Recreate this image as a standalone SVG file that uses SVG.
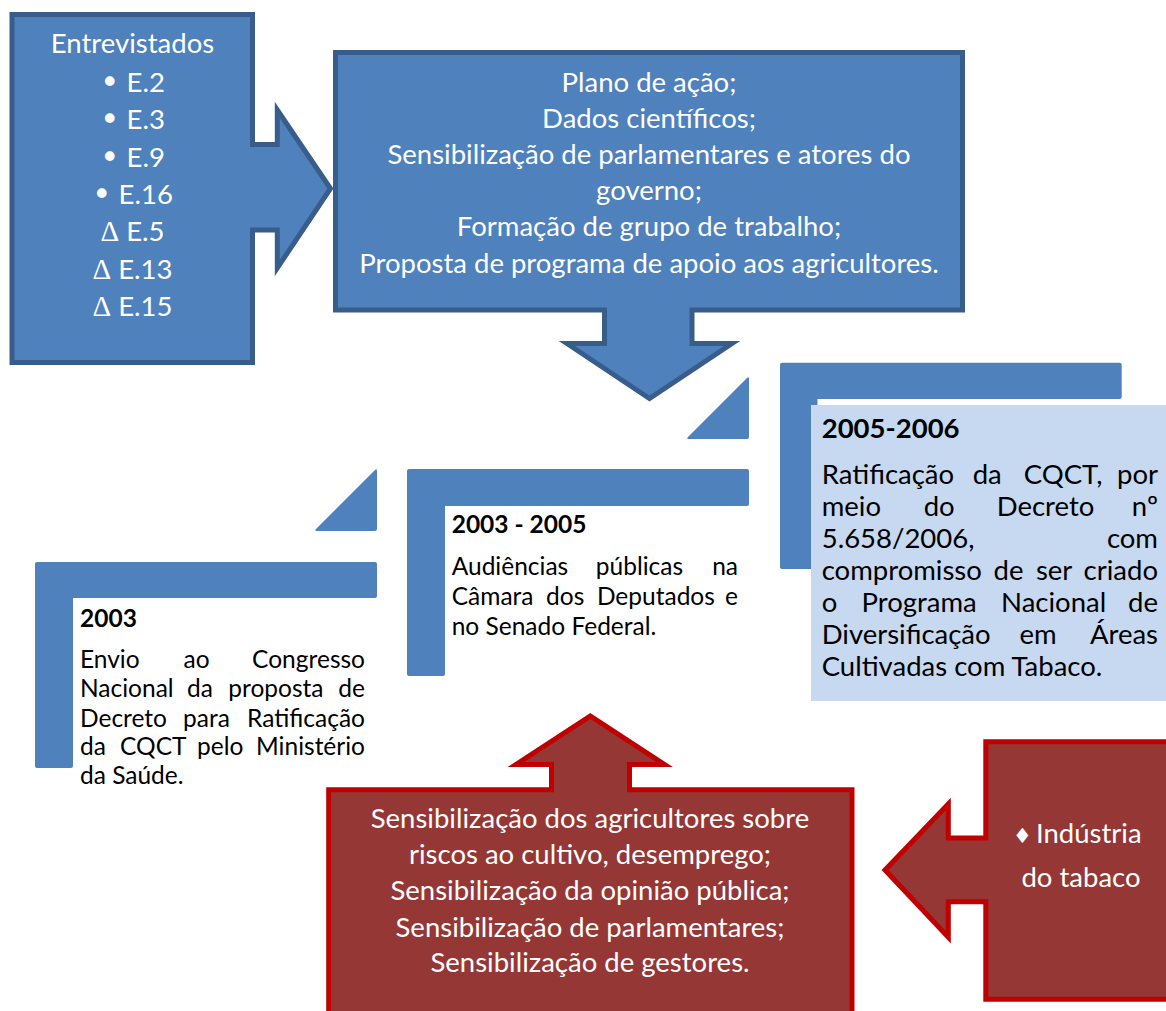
<svg xmlns="http://www.w3.org/2000/svg" width="1166" height="1011" viewBox="0 0 1166 1011">
  <style>
    .blue-callout { fill: #4f81bd; stroke: #385d8a; stroke-width: 5; stroke-linejoin: miter; }
    .red-callout { fill: #953735; stroke: #c00000; stroke-width: 5; stroke-linejoin: miter; }
    .step { fill: #4f81bd; }
    .step-note { fill: #c6d9f1; }
    .lbl { font-family: Lato, "Liberation Sans", sans-serif; font-size: 27.5px; fill: #ffffff; text-anchor: middle; }
    .sym { font-family: "DejaVu Sans", sans-serif; font-size: 33px; }
    .dia { font-family: "DejaVu Sans", sans-serif; font-size: 21px; fill: #ffffff; text-anchor: start; }
    .delta { font-family: "Liberation Serif", serif; font-size: 29px; }
    .st { font-family: Lato, "Liberation Sans", sans-serif; font-size: 24.5px; fill: #000000; }
    .st3 { font-family: Lato, "Liberation Sans", sans-serif; font-size: 27.5px; fill: #000000; }
    .hd { font-weight: bold; }
    .end { text-anchor: end; }
    .start { text-anchor: start; }
  </style>

  <rect x="0" y="0" width="1166" height="1011" fill="#ffffff"/>

  <!-- interviewees callout, arrow pointing right -->
  <g id="entrevistados">
    <path class="blue-callout" d="M12,14.5 H252.5 V144.5 H277.3 V110 L330.5,188.5 L277.3,268 V230 H252.5 V362.5 H12 Z"/>
    <text class="lbl" x="132.5" y="53.3">Entrevistados</text>
    <text class="lbl" x="132.5" y="91.7"><tspan class="sym" dy="2">•</tspan><tspan dy="-2"> E.2</tspan></text>
    <text class="lbl" x="132.5" y="129"><tspan class="sym" dy="2">•</tspan><tspan dy="-2"> E.3</tspan></text>
    <text class="lbl" x="132.5" y="166.5"><tspan class="sym" dy="2">•</tspan><tspan dy="-2"> E.9</tspan></text>
    <text class="lbl" x="132.5" y="203.8"><tspan class="sym" dy="2">•</tspan><tspan dy="-2"> E.16</tspan></text>
    <text class="lbl" x="132.5" y="241"><tspan class="delta">Δ</tspan> E.5</text>
    <text class="lbl" x="132.5" y="278.6"><tspan class="delta">Δ</tspan> E.13</text>
    <text class="lbl" x="132.5" y="316"><tspan class="delta">Δ</tspan> E.15</text>
  </g>

  <!-- strategies callout, arrow pointing down -->
  <g id="estrategias">
    <path class="blue-callout" d="M335.5,52.5 H962.5 V310 H692 V343.5 H732 L649.5,398.5 L567,343.5 H604.5 V310 H335.5 Z"/>
    <text class="lbl" x="649" y="92">Plano de ação;</text>
    <text class="lbl" x="649" y="128">Dados científicos;</text>
    <text class="lbl" x="649" y="164.2">Sensibilização de parlamentares e atores do</text>
    <text class="lbl" x="649" y="200.3">governo;</text>
    <text class="lbl" x="649" y="236.4">Formação de grupo de trabalho;</text>
    <text class="lbl" x="649" y="272.5">Proposta de programa de apoio aos agricultores.</text>
  </g>

  <!-- step-up arrows between the timeline steps -->
  <g id="connectors">
    <path class="step" d="M377,471 V529 Q377,531 375,531 H317 Q314,531 316,529 L375,470 Q377,468 377,471 Z"/>
    <path class="step" d="M749,379 V437 Q749,439 747,439 H689 Q686,439 688,437 L747,378 Q749,376 749,379 Z"/>
  </g>

  <!-- step 1: 2003 -->
  <g id="etapa-2003">
    <path class="step" d="M37,562 H375 Q377,562 377,564 V596 Q377,598 375,598 H73 V766 Q73,768 71,768 H37 Q35,768 35,766 V564 Q35,562 37,562 Z"/>
    <text class="st hd" x="80" y="626.7">2003</text>
    <text class="st" y="668"><tspan x="80">Envio</tspan><tspan x="183.5">ao</tspan></text>
    <text class="st end" x="365" y="668">Congresso</text>
    <text class="st" y="697"><tspan x="80">Nacional</tspan><tspan x="187.1">da</tspan><tspan x="228.3">proposta</tspan></text>
    <text class="st end" x="365" y="697">de</text>
    <text class="st" y="726.5"><tspan x="80">Decreto</tspan><tspan x="183">para</tspan></text>
    <text class="st end" x="365" y="726.5">Ratificação</text>
    <text class="st" y="755"><tspan x="80">da</tspan><tspan x="120">CQCT</tspan><tspan x="197">pelo</tspan></text>
    <text class="st end" x="365" y="755">Ministério</text>
    <text class="st" x="80" y="783.5">da Saúde.</text>
  </g>

  <!-- step 2: 2003 - 2005 -->
  <g id="etapa-2003-2005">
    <path class="step" d="M409,469 H747 Q749,469 749,471 V504 Q749,506 747,506 H445 V674 Q445,676 443,676 H409 Q407,676 407,674 V471 Q407,469 409,469 Z"/>
    <text class="st hd" x="451.7" y="533">2003 - 2005</text>
    <text class="st" y="575"><tspan x="451.7">Audiências</tspan><tspan x="595.8">públicas</tspan></text>
    <text class="st end" x="738" y="575">na</text>
    <text class="st" y="605"><tspan x="451.7">Câmara</tspan><tspan x="546.1">dos</tspan><tspan x="596.9">Deputados</tspan></text>
    <text class="st end" x="738" y="605">e</text>
    <text class="st" x="451.7" y="635">no Senado Federal.</text>
  </g>

  <!-- step 3: 2005-2006 -->
  <g id="etapa-2005-2006">
    <path class="step" d="M782,362.7 H1119.7 Q1121.7,362.7 1121.7,364.7 V397 Q1121.7,399 1119.7,399 H817.7 V567 Q817.7,569 815.7,569 H782 Q780,569 780,567 V364.7 Q780,362.7 782,362.7 Z"/>
    <rect x="817.7" y="399" width="349" height="6" fill="#ffffff"/>
    <rect class="step-note" x="811" y="405" width="356" height="296"/>
    <text class="st3 hd" x="821.7" y="438">2005-2006</text>
    <text class="st3" y="484"><tspan x="821.7">Ratificação</tspan><tspan x="972.7">da</tspan><tspan x="1023.7">CQCT,</tspan></text>
    <text class="st3 end" x="1158" y="484">por</text>
    <text class="st3" y="516"><tspan x="821.7">meio</tspan><tspan x="923.7">do</tspan><tspan x="996.7">Decreto</tspan></text>
    <text class="st3 end" x="1158" y="516">nº</text>
    <text class="st3" x="821.7" y="548">5.658/2006,</text>
    <text class="st3 end" x="1158" y="548">com</text>
    <text class="st3" y="580"><tspan x="821.7">compromisso</tspan><tspan x="993.5">de</tspan><tspan x="1035.9">ser</tspan></text>
    <text class="st3 end" x="1158" y="580">criado</text>
    <text class="st3" y="612"><tspan x="821.7">o</tspan><tspan x="861.5">Programa</tspan><tspan x="1001.1">Nacional</tspan></text>
    <text class="st3 end" x="1158" y="612">de</text>
    <text class="st3" y="644"><tspan x="821.7">Diversificação</tspan><tspan x="1019.4">em</tspan></text>
    <text class="st3 end" x="1158" y="644">Áreas</text>
    <text class="st3" x="821.7" y="676">Cultivadas com Tabaco.</text>
  </g>

  <!-- opposing strategies callout, arrow pointing up -->
  <g id="contra-estrategias">
    <path class="red-callout" d="M328.7,1030 V789.8 H551.5 V764.5 H516 L590.3,716 L664.5,764.5 H629.5 V789.8 H852 V1030"/>
    <text class="lbl" x="590" y="828">Sensibilização dos agricultores sobre</text>
    <text class="lbl" x="590" y="864">riscos ao cultivo, desemprego;</text>
    <text class="lbl" x="590" y="900">Sensibilização da opinião pública;</text>
    <text class="lbl" x="590" y="937">Sensibilização de parlamentares;</text>
    <text class="lbl" x="590" y="972">Sensibilização de gestores.</text>
  </g>

  <!-- tobacco industry callout, arrow pointing left -->
  <g id="industria">
    <path class="red-callout" d="M1190,741.8 H985.8 V838 H948.3 V804 L885,870 L948.3,937.3 V901.7 H985.8 V999.2 H1190"/>
    <text class="dia" x="1013" y="843.3">♦</text>
    <text class="lbl start" x="1036" y="843.3">Indústria</text>
    <text class="lbl" x="1081" y="887">do tabaco</text>
  </g>
</svg>
